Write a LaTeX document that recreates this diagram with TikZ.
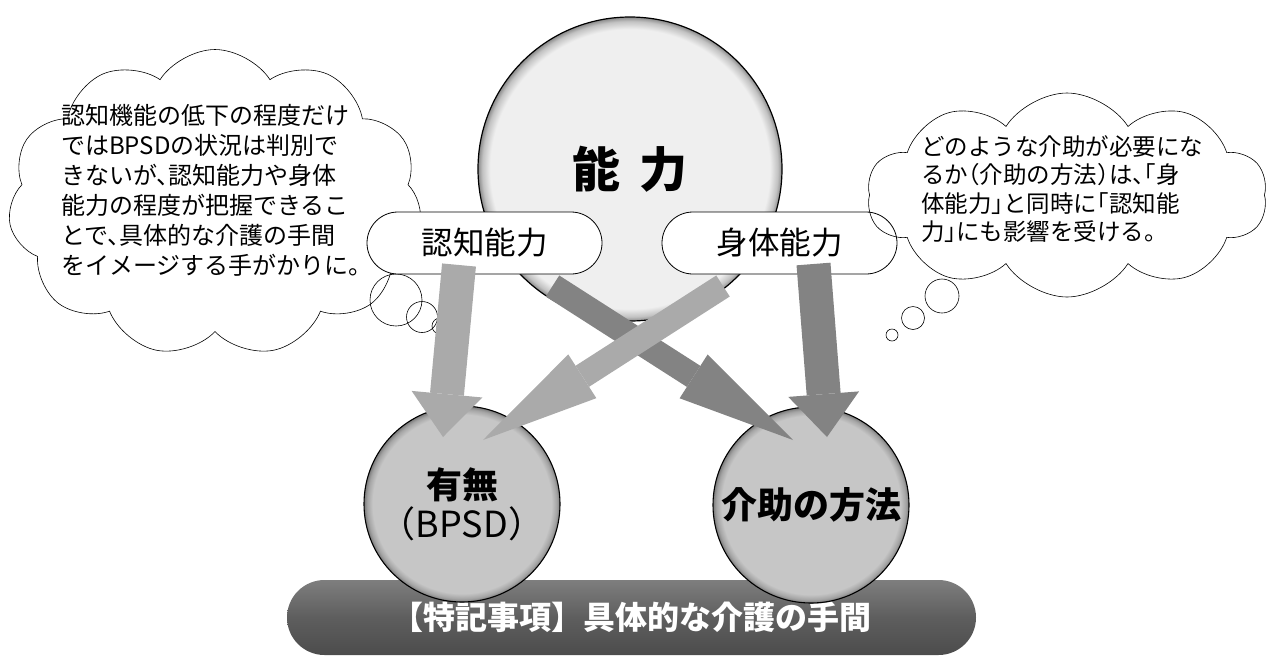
\documentclass[tikz,border=0pt]{standalone}
\usepackage{fontspec}
\setmainfont{Noto Sans CJK JP}
\newfontfamily\notefont{Noto Sans CJK JP}[RawFeature=+halt]
\usetikzlibrary{arrows.meta,shapes.misc,shapes.symbols}
\definecolor{lightarrow}{HTML}{AAAAAA}
\definecolor{darkarrow}{HTML}{838383}
\definecolor{topfill}{HTML}{EFEFEF}
\definecolor{toprim}{HTML}{8A8A8A}
\definecolor{subfill}{HTML}{C6C6C6}
\definecolor{subrim}{HTML}{7A7A7A}
\definecolor{bartop}{HTML}{7E7E7E}
\definecolor{barmid}{HTML}{5E5E5E}
\definecolor{barbot}{HTML}{4C4C4C}
\pgfdeclareradialshading{topshade}{\pgfpointorigin}{color(0bp)=(topfill); color(23bp)=(topfill); color(24.3bp)=(topfill!55!toprim); color(25bp)=(toprim); color(50bp)=(toprim)}
\pgfdeclareradialshading{subshade}{\pgfpointorigin}{color(0bp)=(subfill); color(22.8bp)=(subfill); color(24.2bp)=(subfill!55!subrim); color(25bp)=(subrim); color(50bp)=(subrim)}
\tikzset{
  ability/.style={circle,draw=black,line width=1.2pt,shade,shading=topshade,minimum size=304pt,inner sep=0pt,font=\bfseries\fontsize{48}{52}\selectfont},
  outcome/.style={circle,draw=black,line width=1.1pt,shade,shading=subshade,minimum size=196pt,inner sep=0pt,align=center,font=\bfseries\fontsize{36}{39}\selectfont},
  pill/.style={rounded rectangle,draw=black,line width=0.8pt,fill=white,minimum width=235pt,minimum height=62pt,inner sep=0pt,font=\fontsize{31.5}{36}\selectfont},
  thought/.style={cloud,draw=black,line width=0.6pt,inner sep=0pt,cloud puff arc=115},
  bubble/.style={circle,draw=black,line width=0.6pt,inner sep=0pt},
  note/.style={anchor=west,align=left,inner sep=0pt},
  wide shaft/.style={line width=34pt,-{Triangle[length=43pt,width=71pt,line width=0pt]}},
  cross shaft/.style={line width=25pt,-{Triangle[length=118pt,width=52pt,line width=0pt]}},
  footbar/.style={rounded rectangle,minimum width=689pt,minimum height=75pt,inner sep=0pt,top color=bartop,bottom color=barbot,middle color=barmid,text=white,font=\bfseries\fontsize{32}{36}\selectfont}
}
\begin{document}
\begin{tikzpicture}[x=1pt,y=-1pt]
\useasboundingbox (0,0) rectangle (1270,657);
\node[thought,cloud puffs=11,minimum width=414pt,minimum height=307pt] (cloudl) at (215,203) {};
\node[bubble,minimum size=52pt] (bl1) at (396,300) {};
\node[bubble,minimum size=31pt] (bl2) at (422,317) {};
\node[bubble,minimum size=16pt] (bl3) at (440,326) {};
\node[bubble,minimum size=34pt] (br1) at (942,296) {};
\node[bubble,minimum size=23pt] (br2) at (913,318) {};
\node[bubble,minimum size=12pt] (br3) at (892,335) {};
\node[ability] (ability) at (630,169) {能\hspace{0.4em}力};
\node[pill] (cog) at (484.5,243) {認知能力};
\node[pill] (phys) at (779.5,243) {身体能力};
\node[thought,cloud puffs=10,minimum width=400pt,minimum height=204pt] (cloudr) at (1067,195) {};
\node[footbar] (bar) at (631.5,617.5) {【特記事項】具体的な介護の手間};
\node[outcome] (bpsd) at (462,504) {有無\\\mdseries（BPSD）};
\node[outcome] (method) at (811,505) {介助の方法};
\coordinate (cogtail) at (459,265);
\coordinate (cogtip) at (443,437);
\coordinate (phystail) at (813.5,264);
\coordinate (phystip) at (827,437);
\coordinate (crosstailL) at (552.5,286);
\coordinate (crosstipR) at (793,440);
\coordinate (crosstailR) at (723,286);
\coordinate (crosstipL) at (483,440);
\draw[cross shaft,darkarrow] (crosstailL) -- (crosstipR);
\draw[cross shaft,lightarrow] (crosstailR) -- (crosstipL);
\draw[wide shaft,lightarrow] (cogtail) -- (cogtip);
\draw[wide shaft,darkarrow] (phystail) -- (phystip);
\node[note,font=\notefont\fontsize{24}{30}\selectfont] (notel) at (61,190) {認知機能の低下の程度だけ\\ではBPSDの状況は判別で\\きないが、認知能力や身体\\能力の程度が把握できるこ\\とで、具体的な介護の手間\\をイメージする手がかりに。};
\node[note,font=\notefont\fontsize{23.5}{28.5}\selectfont] (noter) at (921,189) {どのような介助が必要にな\\るか（介助の方法）は、「身\\体能力」と同時に「認知能\\力」にも影響を受ける。};
\end{tikzpicture}
\end{document}
